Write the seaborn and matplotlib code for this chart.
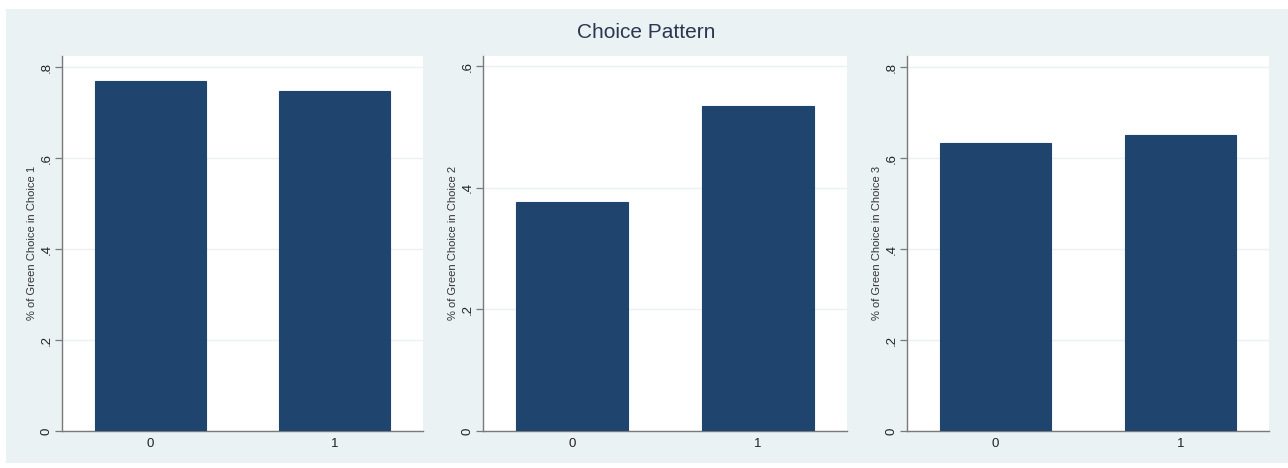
import matplotlib
matplotlib.use("Agg")
import matplotlib.pyplot as plt
from matplotlib.patches import Rectangle
import seaborn as sns

# Data
groups = ["0", "1"]
choice1 = [0.770, 0.747]
choice2 = [0.377, 0.535]
choice3 = [0.634, 0.652]
panels = [choice1, choice2, choice3]
ylabels = ["% of Green Choice in Choice 1",
           "% of Green Choice in Choice 2",
           "% of Green Choice in Choice 3"]
yticks = [[0, 0.2, 0.4, 0.6, 0.8], [0, 0.2, 0.4, 0.6], [0, 0.2, 0.4, 0.6, 0.8]]
yticklabels = [["0", ".2", ".4", ".6", ".8"], ["0", ".2", ".4", ".6"],
               ["0", ".2", ".4", ".6", ".8"]]
ytop = [0.826, 0.618, 0.826]
title = "Choice Pattern"

sns.set_theme(style="white")
plt.rcParams["font.family"] = ["Liberation Sans", "DejaVu Sans"]

W, H = 1288, 468
fig = plt.figure(figsize=(W / 100, H / 100), dpi=100, facecolor="white")

BG = "#eaf2f3"
BAR = "#1f456e"
AXC = "#7a7a7a"

# graph region background, drawn beneath the panels
bg = Rectangle((6 / W, (H - 463) / H), (W - 6) / W, (463 - 9) / H,
               transform=fig.transFigure, facecolor=BG, edgecolor="none")
bg.set_zorder(-10)
fig.add_artist(bg)

fig.text(646 / W, 1 - 32 / H, title, ha="center", va="center",
         fontsize=15, color="#2b3650")

boxes = [(62, 423), (483, 847), (907, 1269)]
top_px, bot_px = 55.5, 431

for i, (vals, (x0, x1)) in enumerate(zip(panels, boxes)):
    ax = fig.add_axes([x0 / W, (H - bot_px) / H, (x1 - x0) / W, (bot_px - top_px) / H])
    ax.set_zorder(1)
    ax.set_facecolor("white")
    sns.barplot(x=groups, y=vals, ax=ax, color=BAR, width=0.6,
                saturation=1, edgecolor=BAR, linewidth=0.8, zorder=3)
    ax.set_xlim(-0.48, 1.48)
    ax.set_ylim(0, ytop[i])
    ax.set_yticks(yticks[i])
    ax.set_yticklabels(yticklabels[i], rotation=90, va="center")
    ax.yaxis.grid(True, color=BG, linewidth=1.0, zorder=0)
    ax.set_axisbelow(True)
    ax.set_ylabel(ylabels[i], fontsize=8, color="#333333", labelpad=2)
    ax.set_xlabel("")
    for s in ["top", "right"]:
        ax.spines[s].set_visible(False)
    for s in ["left", "bottom"]:
        ax.spines[s].set_color(AXC)
        ax.spines[s].set_linewidth(1.0)
    ax.tick_params(axis="y", length=5, width=0.9, color=AXC, labelsize=9.5,
                   labelcolor="#222222", pad=2, left=True)
    ax.tick_params(axis="x", length=0, labelsize=9.5, labelcolor="#222222", pad=5)

fig.savefig("out.png", dpi=100, facecolor="white")
